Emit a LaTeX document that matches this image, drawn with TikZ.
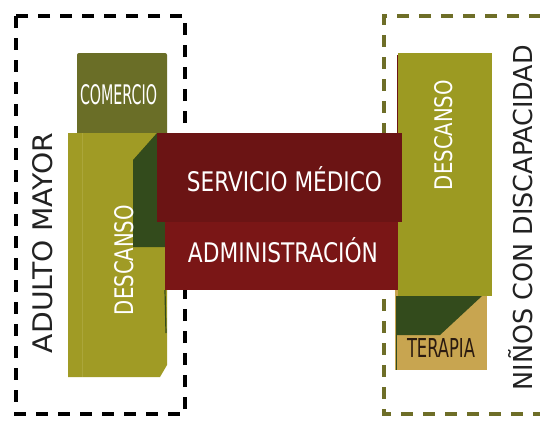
\documentclass[tikz,border=0pt]{standalone}
\usepackage{graphicx}
\usepackage{fontspec}
\setmainfont{DejaVu Sans Condensed}
\definecolor{comercio}{HTML}{6A6E27}
\definecolor{olive}{HTML}{A09B25}
\definecolor{oliveR}{HTML}{9C9A22}
\definecolor{oliveLine}{HTML}{ABA63A}
\definecolor{darkgreen}{HTML}{334B1C}
\definecolor{redA}{HTML}{6B1414}
\definecolor{redB}{HTML}{7A1616}
\definecolor{tan}{HTML}{C8A550}
\definecolor{dashR}{HTML}{6E6E28}
\definecolor{labeltxt}{HTML}{222222}
\definecolor{terapiatxt}{HTML}{2A1A10}
\newcommand{\fitt}[3]{\resizebox{#1pt}{#2pt}{#3}}
\tikzset{
  x=1pt,y=-1pt,
  block/.style={inner sep=0pt,outer sep=0pt,anchor=north west},
  zonebox/.style={line width=4.5pt,dash pattern=on 12pt off 10pt},
  txt/.style={inner sep=0pt,outer sep=0pt},
}
\begin{document}
\begin{tikzpicture}
\useasboundingbox[fill=white] (0,0) rectangle (540,421);
% dashed zones
\draw[zonebox,black] (16,16) rectangle (185,414);
\draw[zonebox,dashR] (541,16) -- (384,16) -- (384,414) -- (541,414);
% left column
\fill[comercio,rounded corners=2pt] (77,53) rectangle (167,140);
\node[block,minimum width=90pt,minimum height=80pt] (comercio) at (77,53) {};
\fill[olive] (68,133) -- (167,133) -- (167,365) -- (160,377) -- (68,377) -- cycle;
\draw[oliveLine,line width=0.8pt] (82,133) -- (82,377);
\fill[darkgreen] (133,160) -- (157,133) -- (165,133) -- (165,247) -- (133,247) -- cycle;
\draw[darkgreen,line width=1.2pt] (165,290) -- (166,333);
% right column
\fill[tan] (395,290) rectangle (487,370);
\fill[oliveR] (398,53) rectangle (492,296);
\draw[redA,line width=1pt] (397,55) -- (397,133);
\fill[darkgreen] (396,296) -- (482,296) -- (440,335) -- (396,335) -- cycle;
\draw[darkgreen,line width=1pt] (396,335) -- (396,370);
% central red blocks
\fill[redA] (157,133) rectangle (402,222);
\fill[redB] (165,222) rectangle (398,290);
\node[block,minimum width=245pt,minimum height=89pt] (servicio) at (157,133) {};
\node[block,minimum width=233pt,minimum height=68pt] (admin) at (165,222) {};
\node[block,minimum width=94pt,minimum height=243pt] (descR) at (398,53) {};
\node[block,minimum width=92pt,minimum height=80pt] (terapia) at (395,290) {};
% texts
\node[txt,white] (tcomercio) at (118.5,95) {\fitt{77}{20}{COMERCIO}};
\node[txt,white,rotate=90] (tdescL) at (124,260) {\fitt{110}{19}{DESCANSO}};
\node[txt,white] (tservicio) at (284.5,179.5) {\fitt{195}{25}{SERVICIO MÉDICO}};
\node[txt,white] (tadmin) at (283,250.5) {\fitt{190}{25}{ADMINISTRACIÓN}};
\node[txt,white,rotate=90] (tdescR) at (444,135) {\fitt{110}{18}{DESCANSO}};
\node[txt,terapiatxt] (tterapia) at (441,347.5) {\fitt{68}{19}{TERAPIA}};
\node[txt,labeltxt,rotate=90] (tadulto) at (43,243) {\fitt{220}{20}{ADULTO MAYOR}};
\node[txt,labeltxt,rotate=90] (tninos) at (521,217.5) {\fitt{345}{24}{NIÑOS CON DISCAPACIDAD}};
\end{tikzpicture}
\end{document}
